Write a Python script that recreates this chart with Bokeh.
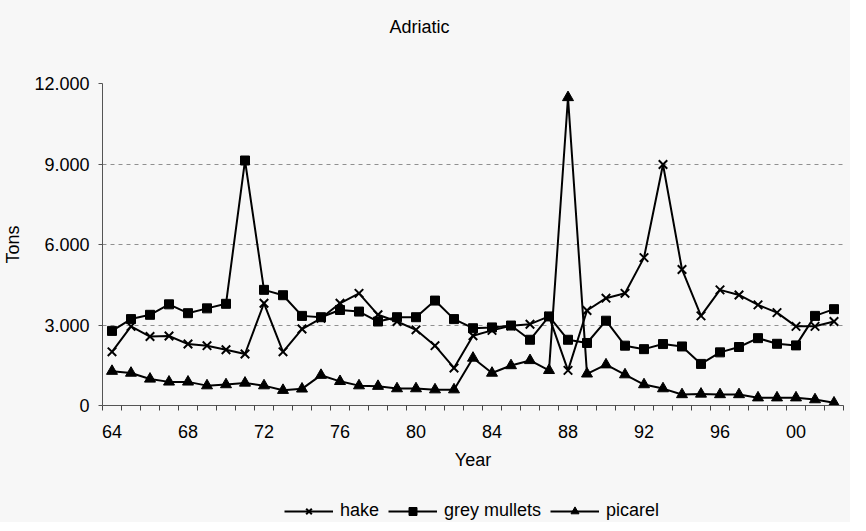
from bokeh.plotting import figure
from bokeh.layouts import column
from bokeh.models import FixedTicker, Legend, LegendItem, Range1d
from bokeh.embed import file_html
from bokeh.resources import INLINE

# ---- data ----
years = list(range(1964, 2003))
hake = [2000, 2950, 2570, 2590, 2290, 2230, 2080, 1920, 3810, 2000,
        2850, 3250, 3810, 4180, 3380, 3130, 2820, 2230, 1400, 2600,
        2800, 2970, 3030, 3320, 1310, 3540, 4000, 4180, 5510, 8980,
        5070, 3340, 4310, 4120, 3750, 3460, 2950, 2950, 3130]
grey_mullets = [2780, 3220, 3380, 3770, 3440, 3620, 3790, 9130, 4310, 4110,
                3340, 3290, 3560, 3500, 3130, 3290, 3290, 3910, 3220, 2880,
                2910, 2980, 2450, 3320, 2450, 2330, 3160, 2230, 2100, 2290,
                2200, 1550, 1980, 2180, 2510, 2300, 2240, 3340, 3590]
picarel = [1280, 1210, 990, 880, 880, 740, 780, 840, 740, 570,
           620, 1130, 900, 740, 720, 630, 630, 590, 590, 1770,
           1210, 1490, 1680, 1310, 11480, 1180, 1520, 1150, 780, 630,
           410, 430, 410, 410, 290, 290, 290, 220, 100]
series_names = ["hake", "grey mullets", "picarel"]
tick_years = [1964, 1968, 1972, 1976, 1980, 1984, 1988, 1992, 1996, 2000]
tick_labels = ["64", "68", "72", "76", "80", "84", "88", "92", "96", "00"]
y_ticks = [0, 3000, 6000, 9000, 12000]
y_labels = ["0", "3.000", "6.000", "9.000", "12.000"]

FONT = "Liberation Sans"
BG = "#f7f7f7"


def strip(height, top):
    f = figure(width=850, height=height, output_backend="svg",
               toolbar_location=None,
               x_range=Range1d(0, 1), y_range=Range1d(0, 1),
               x_axis_location=None, y_axis_location=None,
               min_border_left=101, min_border_right=7,
               min_border_top=top, min_border_bottom=0)
    f.background_fill_color = BG
    f.border_fill_color = BG
    f.outline_line_color = None
    f.grid.visible = False
    return f


# ---- title strip ----
tg = strip(50, 38)
tg.title.text = "Adriatic"
tg.title.text_font = FONT
tg.title.text_font_size = "18px"
tg.title.text_font_style = "normal"
tg.title.text_color = "black"
tg.title.align = "left"
tg.title.offset = 287
tg.title.standoff = 4

# ---- main chart ----
p = figure(width=850, height=422, output_backend="svg", toolbar_location=None,
           x_range=Range1d(years[0] - 0.5, years[-1] + 0.5),
           y_range=Range1d(0, 12000),
           min_border_left=101, min_border_right=7, min_border_top=33,
           min_border_bottom=66)
p.background_fill_color = BG
p.border_fill_color = BG
p.outline_line_color = None

minor = [y - 0.5 for y in years] + [years[-1] + 0.5]
p.xaxis.ticker = FixedTicker(ticks=tick_years, minor_ticks=minor)
p.xaxis.major_label_overrides = {t: l for t, l in zip(tick_years, tick_labels)}
p.xaxis.major_tick_line_color = None
p.xaxis.major_tick_out = 0
p.xaxis.major_tick_in = 0
p.xaxis.minor_tick_out = 5
p.xaxis.minor_tick_in = 0
p.xaxis.minor_tick_line_color = "#444444"
p.xaxis.axis_line_color = "#555555"
p.xaxis.major_label_standoff = 14
p.xaxis.axis_label = "Year"
p.xaxis.axis_label_standoff = 9

p.yaxis.ticker = FixedTicker(ticks=y_ticks)
p.yaxis.major_label_overrides = {t: l for t, l in zip(y_ticks, y_labels)}
p.yaxis.major_tick_out = 4
p.yaxis.major_tick_in = 0
p.yaxis.minor_tick_line_color = None
p.yaxis.major_tick_line_color = "#555555"
p.yaxis.axis_line_color = "#555555"
p.yaxis.major_label_standoff = 9
p.yaxis.axis_label = "Tons"
p.yaxis.axis_label_standoff = 8

for ax in (p.xaxis, p.yaxis):
    ax.major_label_text_font = FONT
    ax.major_label_text_font_size = "18px"
    ax.major_label_text_color = "black"
    ax.axis_label_text_font = FONT
    ax.axis_label_text_font_size = "18px"
    ax.axis_label_text_font_style = "normal"
    ax.axis_label_text_color = "black"

p.xgrid.grid_line_color = None
p.ygrid.grid_line_color = "#909090"
p.ygrid.grid_line_dash = "4 4"
p.ygrid.grid_line_width = 1

markers = [("x", 12), ("square", 9), ("triangle", 11)]
values = [hake, grey_mullets, picarel]
for vals, (mk, sz) in zip(values, markers):
    p.line(years, vals, color="black", line_width=2)
    p.scatter(years, vals, marker=mk, size=sz, line_color="black",
              fill_color="black", line_width=2 if mk == "x" else 1)

# ---- legend strip (same series & styles; data lies outside its view) ----
lg = strip(50, 0)
items = []
for name, vals, (mk, sz) in zip(series_names, values, markers):
    lr = lg.line(years, vals, color="black", line_width=2)
    mr = lg.scatter(years, vals, marker=mk, size=sz, line_color="black",
                    fill_color="black", line_width=2 if mk == "x" else 1)
    items.append(LegendItem(label=name, renderers=[lr, mr]))
legend = Legend(items=items, orientation="horizontal", location=(182, 1),
                glyph_width=49, glyph_height=20, label_standoff=7, spacing=9,
                label_text_font=FONT, label_text_font_size="18px",
                label_text_color="black",
                border_line_color=None, background_fill_alpha=0,
                padding=0, margin=0)
lg.add_layout(legend, "center")

layout = column(tg, p, lg, spacing=0, styles={"background-color": BG})
open("out.html", "w").write(file_html(layout, INLINE))
